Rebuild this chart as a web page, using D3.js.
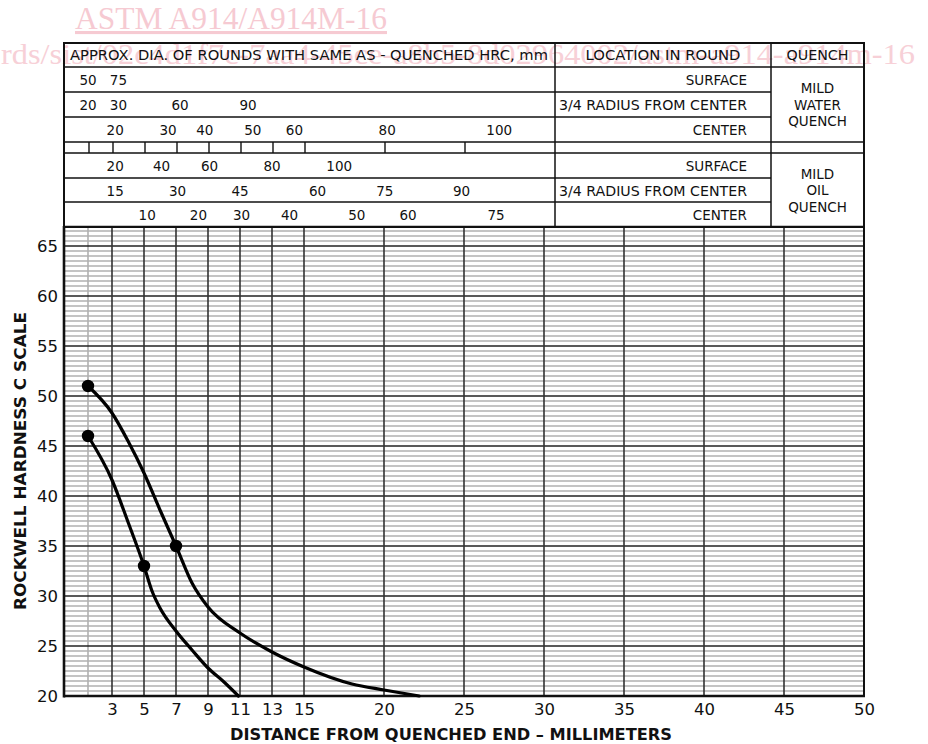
<!DOCTYPE html>
<html>
<head>
<meta charset="utf-8">
<script src="https://cdn.jsdelivr.net/npm/d3@7"></script>
<style>
html,body{margin:0;padding:0;background:#fff;}
svg{display:block;}
text{font-family:"DejaVu Sans",Verdana,sans-serif;fill:#111;}
</style>
</head>
<body>
<svg id="chart" width="928" height="744"></svg>
<script>
// ---------- DATA ----------
const xTicks = [3,5,7,9,11,13,15,20,25,30,35,40,45,50];
const yTicks = [20,25,30,35,40,45,50,55,60,65];
const gridX = [3,5,7,9,11,13,15,20,25,30,35,40,45];
const grayGridX = [1.5];
const headerTickX = [1.5,3,5,7,9,11,13,15,20,25];

// curve A (upper) : distance (mm) / HRC
const curveADist = [1.5, 3, 4, 5, 6, 7, 8, 9, 11, 13, 15, 18, 20, 22.2];
const curveAHRC  = [51, 48.3, 45.5, 42.3, 38.6, 35, 31.3, 28.9, 26.3, 24.4, 22.9, 21.2, 20.6, 20];
const curveADotDist = [1.5, 7];
const curveADotHRC  = [51, 35];

// curve B (lower)
const curveBDist = [1.5, 3, 4, 5, 5.5, 6, 7, 8, 9, 10, 10.9];
const curveBHRC  = [46, 41.6, 37.4, 33, 30.5, 28.8, 26.5, 24.6, 22.8, 21.4, 20];
const curveBDotDist = [1.5, 5];
const curveBDotHRC  = [46, 33];

// header: diameters (mm) and the Jominy distance they line up with
const waterSurfaceDia = ["50","75"];
const waterSurfaceAt  = [1.5, 3.4];
const waterThreeQDia  = ["20","30","60","90"];
const waterThreeQAt   = [1.5, 3.4, 7.25, 11.5];
const waterCenterDia  = ["20","30","40","50","60","80","100"];
const waterCenterAt   = [3.2, 6.5, 8.8, 11.8, 14.4, 20.2, 27.2];
const oilSurfaceDia   = ["20","40","60","80","100"];
const oilSurfaceAt    = [3.2, 6.1, 9.1, 13.0, 17.2];
const oilThreeQDia    = ["15","30","45","60","75","90"];
const oilThreeQAt     = [3.2, 7.1, 11.0, 15.85, 20.05, 24.85];
const oilCenterDia    = ["10","20","30","40","50","60","75"];
const oilCenterAt     = [5.2, 8.4, 11.1, 14.1, 18.3, 21.5, 27.0];

const locationLabels = ["SURFACE","3/4 RADIUS FROM CENTER","CENTER"];
const headerTitles = ["APPROX. DIA. OF ROUNDS WITH SAME AS - QUENCHED HRC, mm","LOCATION IN ROUND","QUENCH"];
const waterQuench = ["MILD","WATER","QUENCH"];
const oilQuench = ["MILD","OIL","QUENCH"];

const xTitle = "DISTANCE FROM QUENCHED END – MILLIMETERS";
const yTitle = "ROCKWELL HARDNESS C SCALE";
const watermark1 = "ASTM A914/A914M-16";
const watermark2 = "rds/sist/02c4d1f7c-7aa4-45ce-a8b5-8d02964002/astm-a914-a914m-16";

// ---------- LAYOUT ----------
const svg = d3.select("#chart");
const x = d3.scaleLinear().domain([0,50]).range([64,864]);
const y = d3.scaleLinear().domain([20,67]).range([696,226]);
const pLeft = x(0), pRight = x(50), pBottom = y(20), pTop = y(67);

// watermark
const wmFont = "'Liberation Serif','DejaVu Serif',serif";
const wm = svg.append("g").attr("class","watermark");
wm.append("text").attr("x",231).attr("y",29).attr("text-anchor","middle")
  .style("font-family",wmFont).style("font-size","31px")
  .style("fill","#f6cad2").style("text-decoration","underline")
  .attr("textLength",312).attr("lengthAdjust","spacingAndGlyphs").text(watermark1);
wm.append("text").attr("x",1).attr("y",64)
  .style("font-family",wmFont).style("font-size","30px")
  .style("fill","#f7d0d7")
  .attr("textLength",914).attr("lengthAdjust","spacingAndGlyphs").text(watermark2);

// ---------- GRID ----------
const grid = svg.append("g");
const minorY = d3.range(20.5, 67.01, 0.5).filter(v => Math.abs(v % 5) > 1e-6);
grid.selectAll(".minY").data(minorY).join("line")
  .attr("x1",pLeft).attr("x2",pRight).attr("y1",d=>y(d)).attr("y2",d=>y(d))
  .attr("stroke","#b0b0b0").attr("stroke-width",1.4);
grid.selectAll(".grayX").data(grayGridX).join("line")
  .attr("x1",d=>x(d)).attr("x2",d=>x(d)).attr("y1",pTop).attr("y2",pBottom)
  .attr("stroke","#b0b0b0").attr("stroke-width",1.6);
grid.selectAll(".majY").data(yTicks.filter(d=>d>20)).join("line")
  .attr("x1",pLeft).attr("x2",pRight).attr("y1",d=>y(d)).attr("y2",d=>y(d))
  .attr("stroke","#222").attr("stroke-width",1.6);
grid.selectAll(".majX").data(gridX).join("line")
  .attr("x1",d=>x(d)).attr("x2",d=>x(d)).attr("y1",pTop).attr("y2",pBottom)
  .attr("stroke","#333").attr("stroke-width",1.6);

// frame
svg.append("line").attr("x1",pLeft).attr("x2",pLeft).attr("y1",pTop).attr("y2",pBottom+1.5)
  .attr("stroke","#111").attr("stroke-width",2.6);
svg.append("line").attr("x1",pLeft).attr("x2",pRight+1).attr("y1",pBottom).attr("y2",pBottom)
  .attr("stroke","#111").attr("stroke-width",2.6);
svg.append("line").attr("x1",pRight).attr("x2",pRight).attr("y1",pTop).attr("y2",pBottom)
  .attr("stroke","#111").attr("stroke-width",2);

// ---------- AXES ----------
const yAxis = d3.axisLeft(y).tickValues(yTicks).tickSize(0).tickPadding(6).tickFormat(d3.format("d"));
const gy = svg.append("g").attr("transform",`translate(${pLeft},0)`).call(yAxis);
gy.select(".domain").remove();
gy.selectAll("text").style("font-size","16.5px").style("font-family","'DejaVu Sans',sans-serif").attr("fill","#111");

const xAxis = d3.axisBottom(x).tickValues(xTicks).tickSize(0).tickPadding(7).tickFormat(d3.format("d"));
const gx = svg.append("g").attr("transform",`translate(0,${pBottom})`).call(xAxis);
gx.select(".domain").remove();
gx.selectAll("text").style("font-size","16.5px").style("font-family","'DejaVu Sans',sans-serif").attr("fill","#111");

svg.append("text").attr("x",451).attr("y",740).attr("text-anchor","middle")
  .style("font-weight","bold").style("font-size","16px")
  .attr("textLength",442).attr("lengthAdjust","spacingAndGlyphs").text(xTitle);
svg.append("text").attr("transform",`translate(26,461) rotate(-90)`).attr("text-anchor","middle")
  .style("font-weight","bold").style("font-size","16px")
  .attr("textLength",298).attr("lengthAdjust","spacingAndGlyphs").text(yTitle);

// ---------- CURVES ----------
const line = d3.line().x(d=>x(d[0])).y(d=>y(d[1])).curve(d3.curveMonotoneX);
const curves = [
  {d: d3.zip(curveADist, curveAHRC), dots: d3.zip(curveADotDist, curveADotHRC)},
  {d: d3.zip(curveBDist, curveBHRC), dots: d3.zip(curveBDotDist, curveBDotHRC)}
];
const cg = svg.append("g");
curves.forEach(c => {
  cg.append("path").datum(c.d).attr("d",line).attr("fill","none")
    .attr("stroke","#000").attr("stroke-width",3.2).attr("stroke-linecap","round");
  cg.selectAll(null).data(c.dots).join("circle")
    .attr("cx",d=>x(d[0])).attr("cy",d=>y(d[1])).attr("r",6.2).attr("fill","#000");
});

// ---------- HEADER TABLE ----------
const rowY = [43, 67, 92, 117, 142, 153, 178, 202, 227];
const colX = [pLeft, 555, 771, pRight];
const ht = svg.append("g");
const lc = "#111";
rowY.forEach((ry,i) => {
  if (i===0 || i===rowY.length-1) return;
  ht.append("line").attr("x1",pLeft).attr("x2",colX[2]).attr("y1",ry).attr("y2",ry)
    .attr("stroke",lc).attr("stroke-width",1.5);
  if ([1,4,5].includes(i)) {
    ht.append("line").attr("x1",colX[2]).attr("x2",pRight).attr("y1",ry).attr("y2",ry)
      .attr("stroke",lc).attr("stroke-width",1.5);
  }
});
[colX[1], colX[2]].forEach(cx => {
  ht.append("line").attr("x1",cx).attr("x2",cx).attr("y1",rowY[0]).attr("y2",rowY[8])
    .attr("stroke",lc).attr("stroke-width",1.5);
});
ht.append("rect").attr("x",pLeft).attr("y",rowY[0]).attr("width",pRight-pLeft).attr("height",rowY[8]-rowY[0])
  .attr("fill","none").attr("stroke",lc).attr("stroke-width",2);
ht.selectAll(".htk").data(headerTickX).join("line")
  .attr("x1",d=>x(d)+1).attr("x2",d=>x(d)+1).attr("y1",rowY[4]).attr("y2",rowY[5])
  .attr("stroke",lc).attr("stroke-width",1.4);

const hfs = "13.5px";
ht.append("text").attr("x",70).attr("y",60).style("font-size",hfs)
  .attr("textLength",478).attr("lengthAdjust","spacingAndGlyphs").text(headerTitles[0]);
ht.append("text").attr("x",(colX[1]+colX[2])/2).attr("y",60).attr("text-anchor","middle").style("font-size",hfs)
  .attr("textLength",155).attr("lengthAdjust","spacingAndGlyphs").text(headerTitles[1]);
ht.append("text").attr("x",(colX[2]+pRight)/2).attr("y",60).attr("text-anchor","middle").style("font-size",hfs)
  .attr("textLength",62).attr("lengthAdjust","spacingAndGlyphs").text(headerTitles[2]);

const locRows = [1,2,3,5,6,7];
locRows.forEach((ri,k) => {
  const lbl = locationLabels[k%3];
  const t = ht.append("text").attr("x",747).attr("y",(rowY[ri]+rowY[ri+1])/2+5.5)
    .attr("text-anchor","end").style("font-size",hfs).text(lbl);
  if (k%3===1) t.attr("textLength",188).attr("lengthAdjust","spacingAndGlyphs");
});

[[waterQuench, 1, 4],[oilQuench, 5, 8]].forEach(([lbls, r0, r1]) => {
  const cy = (rowY[r0]+rowY[r1])/2;
  lbls.forEach((l,i) => {
    ht.append("text").attr("x",(colX[2]+pRight)/2).attr("y",cy + (i-1)*16.5 + 5)
      .attr("text-anchor","middle").style("font-size",hfs).text(l);
  });
});

const numRows = [
  [waterSurfaceDia, waterSurfaceAt, 1],
  [waterThreeQDia,  waterThreeQAt,  2],
  [waterCenterDia,  waterCenterAt,  3],
  [oilSurfaceDia,   oilSurfaceAt,   5],
  [oilThreeQDia,    oilThreeQAt,    6],
  [oilCenterDia,    oilCenterAt,    7]
];
numRows.forEach(([labels, at, ri]) => {
  ht.selectAll(null).data(d3.zip(labels, at)).join("text")
    .attr("x",d=>x(d[1])).attr("y",(rowY[ri]+rowY[ri+1])/2+5.5)
    .attr("text-anchor","middle").style("font-size",hfs)
    .text(d=>d[0]);
});
</script>
</body>
</html>
